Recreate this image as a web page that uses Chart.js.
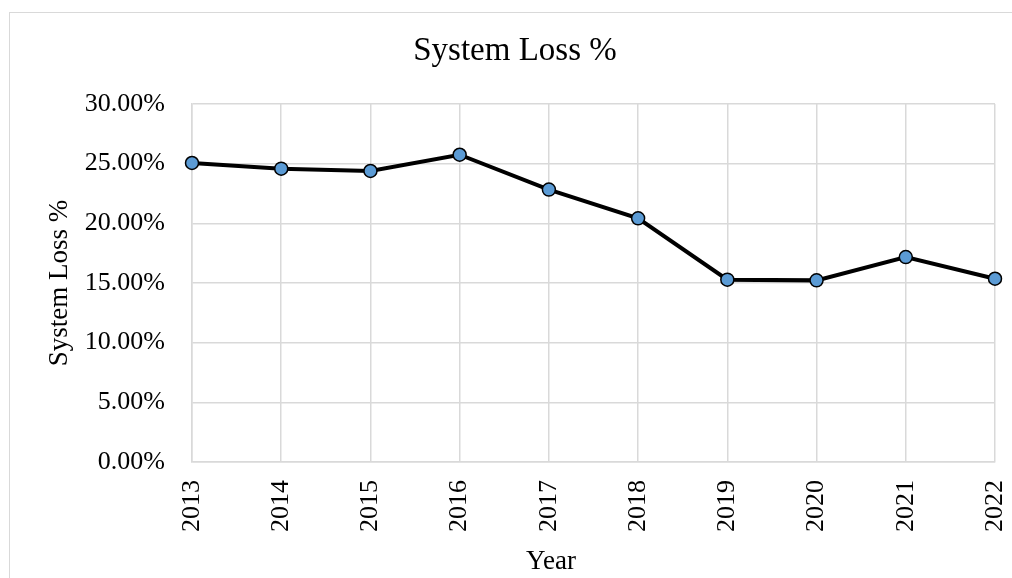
<!DOCTYPE html>
<html>
<head>
<meta charset="utf-8">
<script src="https://cdn.jsdelivr.net/npm/chart.js@4.4.0/dist/chart.umd.min.js"></script>
<style>
  html, body { margin: 0; padding: 0; background: #ffffff; overflow: hidden; }
  #wrap { position: relative; width: 1012px; height: 578px; }
  #frame { position: absolute; left: 9px; top: 12px; width: 1100px; height: 700px;
           border-top: 1px solid #d9d9d9; border-left: 1px solid #d9d9d9; pointer-events: none; }
  canvas { position: absolute; left: 0; top: 0; }
</style>
</head>
<body>
<div id="wrap">
  <canvas id="c" width="1012" height="578"></canvas>
  <div id="frame"></div>
</div>
<script>
const categories = ["2013", "2014", "2015", "2016", "2017", "2018", "2019", "2020", "2021", "2022"];
const systemLoss = [25.06, 24.58, 24.39, 25.75, 22.83, 20.42, 15.28, 15.22, 17.17, 15.36];
const yTicks = [0, 5, 10, 15, 20, 25, 30];
const chartTitle = "System Loss %";
const yTitle = "System Loss %";
const xTitle = "Year";

const FONT = "'Liberation Serif', 'Times New Roman', 'DejaVu Serif', serif";

const xTitlePlugin = {
  id: 'xTitlePlugin',
  afterDraw(chart) {
    const ctx = chart.ctx;
    ctx.save();
    ctx.font = "27px " + FONT;
    ctx.fillStyle = '#000000';
    ctx.textAlign = 'center';
    ctx.textBaseline = 'middle';
    ctx.fillText(xTitle, 551, 562);
    ctx.restore();
  }
};

new Chart(document.getElementById('c'), {
  type: 'line',
  data: {
    labels: categories,
    datasets: [{
      label: yTitle,
      data: systemLoss,
      borderColor: '#000000',
      borderWidth: 4,
      pointRadius: 6.5,
      pointHoverRadius: 6.5,
      pointBackgroundColor: '#5B9BD5',
      pointBorderColor: '#000000',
      pointBorderWidth: 1.5,
      tension: 0,
      fill: false
    }]
  },
  options: {
    responsive: false,
    animation: false,
    layout: { padding: { left: 35, right: 17, top: 0, bottom: 0 } },
    plugins: {
      legend: { display: false },
      tooltip: { enabled: false },
      title: {
        display: true,
        text: chartTitle,
        color: '#000000',
        font: { family: FONT, size: 33, weight: 'normal' },
        padding: { top: 32, bottom: 32.4 }
      }
    },
    scales: {
      x: {
        type: 'category',
        offset: false,
        grid: { display: true, color: '#d9d9d9', lineWidth: 1.5, drawTicks: false },
        border: { display: true, color: '#d9d9d9', width: 1.5 },
        ticks: {
          color: '#000000',
          font: { family: FONT, size: 26 },
          autoSkip: false,
          minRotation: 90,
          maxRotation: 90,
          padding: 18
        },
        afterFit(scale) {
          scale.height = 116;
          scale.paddingLeft = 0;
          scale.paddingRight = 0;
        }
      },
      y: {
        min: 0,
        max: 30,
        afterBuildTicks(scale) { scale.ticks = yTicks.map(v => ({ value: v })); },
        grid: { display: true, color: '#d9d9d9', lineWidth: 1.5, drawTicks: false },
        border: { display: true, color: '#d9d9d9', width: 1.5 },
        ticks: {
          color: '#000000',
          font: { family: FONT, size: 26 },
          padding: 27,
          callback: v => Number(v).toFixed(2) + '%'
        },
        title: {
          display: true,
          text: yTitle,
          color: '#000000',
          font: { family: FONT, size: 27, weight: 'normal' },
          padding: { top: 8.8, bottom: 0 }
        },
        afterFit(scale) { scale.width = 157; }
      }
    }
  },
  plugins: [xTitlePlugin]
});
</script>
</body>
</html>
